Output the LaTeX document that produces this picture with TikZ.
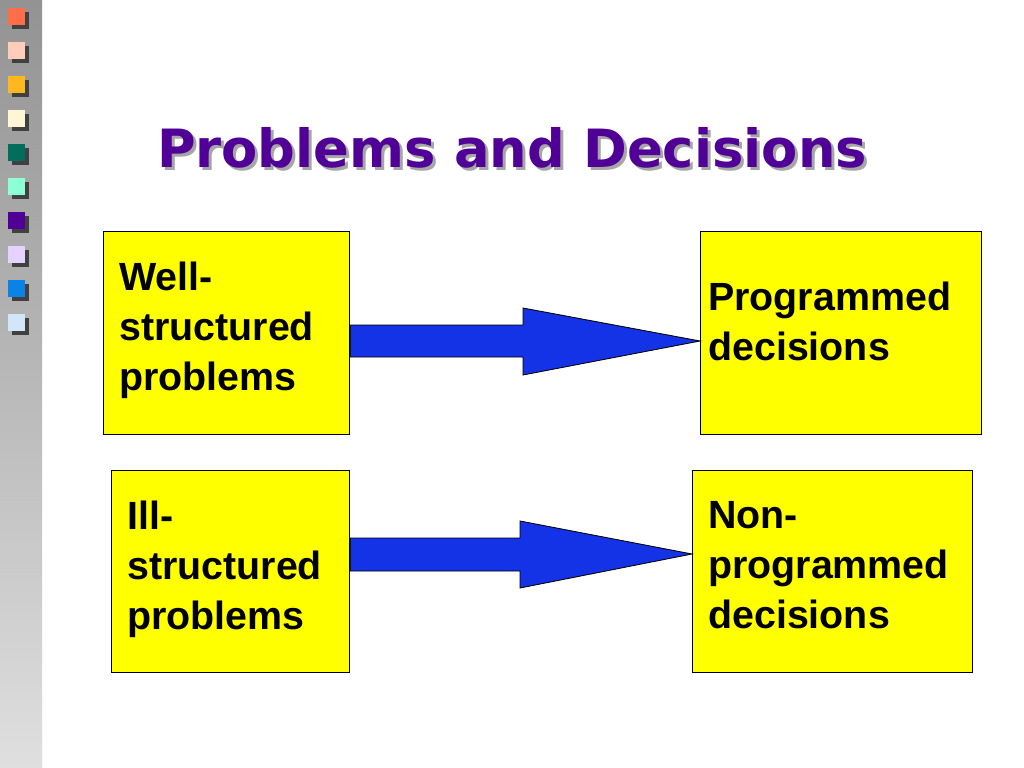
\documentclass[tikz,border=0pt]{standalone}
\usepackage{fontspec}
\setmainfont{Liberation Sans}
\newfontfamily\titlefont{DejaVu Sans}
\usetikzlibrary{calc,shadings}
\definecolor{titlepurple}{RGB}{80,0,150}
\definecolor{boxyellow}{RGB}{255,255,0}
\definecolor{arrowblue}{RGB}{20,50,230}
\tikzset{probbox/.style={draw=black,fill=boxyellow,line width=0.8pt,anchor=north west,inner sep=0pt},
  boxtext/.style={anchor=north west,align=left,font=\fontsize{28}{35.5}\selectfont\bfseries,inner sep=0pt},
  bigarrow/.style={draw=black,fill=arrowblue,line width=0.6pt}}
\begin{document}
\begin{tikzpicture}[x=0.025cm,y=-0.025cm]
    % page and side strip
    \useasboundingbox (0,0) rectangle (1024,768);
    \fill[white] (0,0) rectangle (1024,768);
    \shade[top color=gray!85,bottom color=gray!25] (0,0) rectangle (42,768);
    % colour squares
    \foreach \c [count=\i from 0] in {{255,110,70},{255,205,185},{255,185,30},{255,245,215},{0,110,90},{140,255,215},{80,0,150},{230,210,255},{10,130,230},{210,230,250}}{
      \definecolor{sq}{RGB}{\c}
      \fill[black!75] (12,{12+34*\i}) rectangle +(17,17);
      \fill[sq] (8,{8+34*\i}) rectangle +(17,17);
    }
    % title
    \node[font=\titlefont\fontsize{37.5}{40}\selectfont\bfseries,text=gray!70] at (515,151) {Problems and Decisions};
    \node (title) [font=\titlefont\fontsize{37.5}{40}\selectfont\bfseries,text=titlepurple] at (512,148) {Problems and Decisions};
    % boxes
    \node (well) [probbox,minimum width=246*0.025cm,minimum height=203*0.025cm] at (103,231) {};
    \node (prog) [probbox,minimum width=281*0.025cm,minimum height=203*0.025cm] at (700,231) {};
    \node (ill) [probbox,minimum width=238*0.025cm,minimum height=202*0.025cm] at (111,470) {};
    \node (nonprog) [probbox,minimum width=280*0.025cm,minimum height=202*0.025cm] at (692,470) {};
    \node (welltext) [boxtext] at (119,262) {Well-\\structured\\problems};
    \node (progtext) [boxtext] at (708,282) {Programmed\\decisions};
    \node (illtext) [boxtext] at (127,501) {Ill-\\structured\\problems};
    \node (nonprogtext) [boxtext] at (708,501) {Non-\\programmed\\decisions};
    % arrows
    \draw[bigarrow] ($(well.north east)+(0,94)$) -- (523,325) -- (523,308) -- ($(prog.north west)+(0,110)$)
      -- (523,375) -- (523,357) -- ($(well.north east)+(0,126)$) -- cycle;
    \draw[bigarrow] ($(ill.north east)+(0,68)$) -- (520,538) -- (520,521) -- ($(nonprog.north west)+(0,84)$)
      -- (520,588) -- (520,571) -- ($(ill.north east)+(0,101)$) -- cycle;
\end{tikzpicture}
\end{document}
